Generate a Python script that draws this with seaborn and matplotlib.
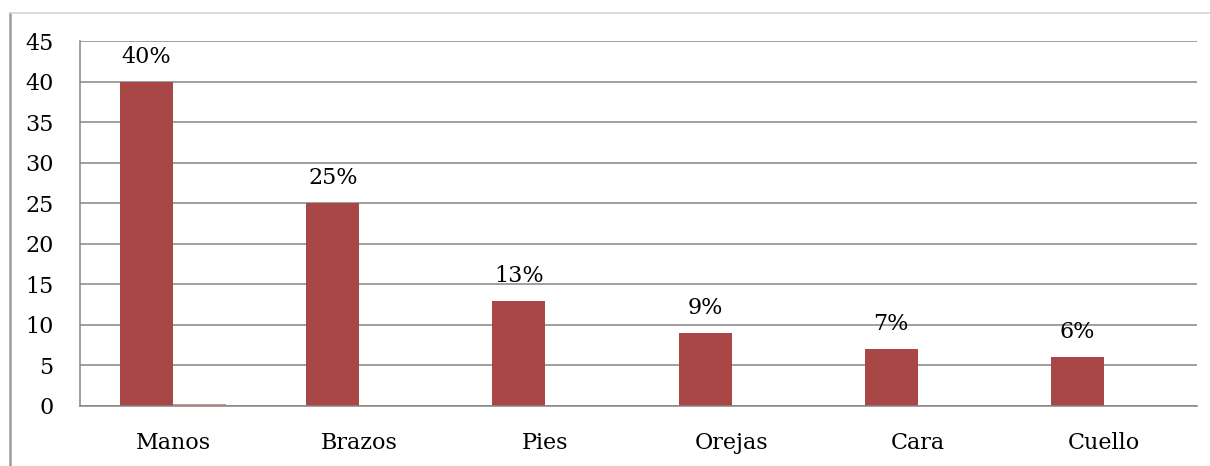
import matplotlib
matplotlib.use("Agg")
import matplotlib.pyplot as plt
from matplotlib.lines import Line2D
import seaborn as sns
import pandas as pd

# Data
categorias = ["Manos", "Brazos", "Pies", "Orejas", "Cara", "Cuello"]
serie_principal = [40, 25, 13, 9, 7, 6]
serie_secundaria = [0.3, 0.1, 0, 0, 0, 0]
y_ticks = [0, 5, 10, 15, 20, 25, 30, 35, 40, 45]

df = pd.DataFrame({
    "categoria": categorias * 2,
    "valor": serie_principal + serie_secundaria,
    "serie": ["Serie 1"] * len(categorias) + ["Serie 2"] * len(categorias),
})

sns.set_style("white")
plt.rcParams["font.family"] = ["DejaVu Serif"]
plt.rcParams["text.color"] = "black"
plt.rcParams["xtick.labelcolor"] = "black"
plt.rcParams["ytick.labelcolor"] = "black"
FS = 16

W, H = 1210, 466
fig = plt.figure(figsize=(W / 100, H / 100), dpi=100)
ax = fig.add_axes([80 / W, 1 - 406 / H, (1197 - 80) / W, (406 - 41) / H])

grid_col = "#858585"
sns.barplot(
    data=df, x="categoria", y="valor", hue="serie",
    palette=["#A84745", "#DA8F8D"], width=0.57, gap=0,
    saturation=1, linewidth=0, legend=False, ax=ax,
)

ax.set_ylim(0, 45)
ax.set_xlim(-0.5, len(categorias) - 0.5)
ax.set_yticks(y_ticks)
ax.set_yticklabels([str(t) for t in y_ticks], fontsize=FS, color="black")
ax.yaxis.grid(True, color=grid_col, linewidth=1.1)
ax.set_axisbelow(True)

# Category boundaries carry the x ticks; names sit at the centres
ax.set_xticks([i - 0.5 for i in range(len(categorias) + 1)])
ax.set_xticklabels([])
ax.set_xticks(range(len(categorias)), minor=True)
ax.set_xticklabels(categorias, minor=True, fontsize=FS, color="black")
ax.tick_params(axis="x", which="major", length=6, width=1.1, color=grid_col)
ax.tick_params(axis="x", which="minor", length=0, pad=19)
ax.tick_params(axis="y", length=6, width=1.1, color=grid_col, pad=13)

ax.set_xlabel("")
ax.set_ylabel("")
for s in ["top", "right"]:
    ax.spines[s].set_visible(False)
ax.spines["left"].set_color(grid_col)
ax.spines["left"].set_linewidth(1.1)
ax.spines["bottom"].set_color(grid_col)
ax.spines["bottom"].set_linewidth(1.1)

# Percentage labels over the main series
main_bars = ax.containers[0]
for rect, v in zip(main_bars, serie_principal):
    ax.annotate(f"{v:.0f}%", (rect.get_x() + rect.get_width() / 2, rect.get_height()),
                xytext=(0, 10), textcoords="offset points",
                ha="center", va="bottom", fontsize=FS, color="black")

# Outer chart frame
fig.add_artist(Line2D([10 / W, 10 / W], [0, 1 - 13 / H], transform=fig.transFigure,
                      color="#9a9a9a", linewidth=1.8))
fig.add_artist(Line2D([10 / W, 1], [1 - 13 / H, 1 - 13 / H], transform=fig.transFigure,
                      color="#d4d4d4", linewidth=1.2))

fig.savefig("out.png", dpi=100)
